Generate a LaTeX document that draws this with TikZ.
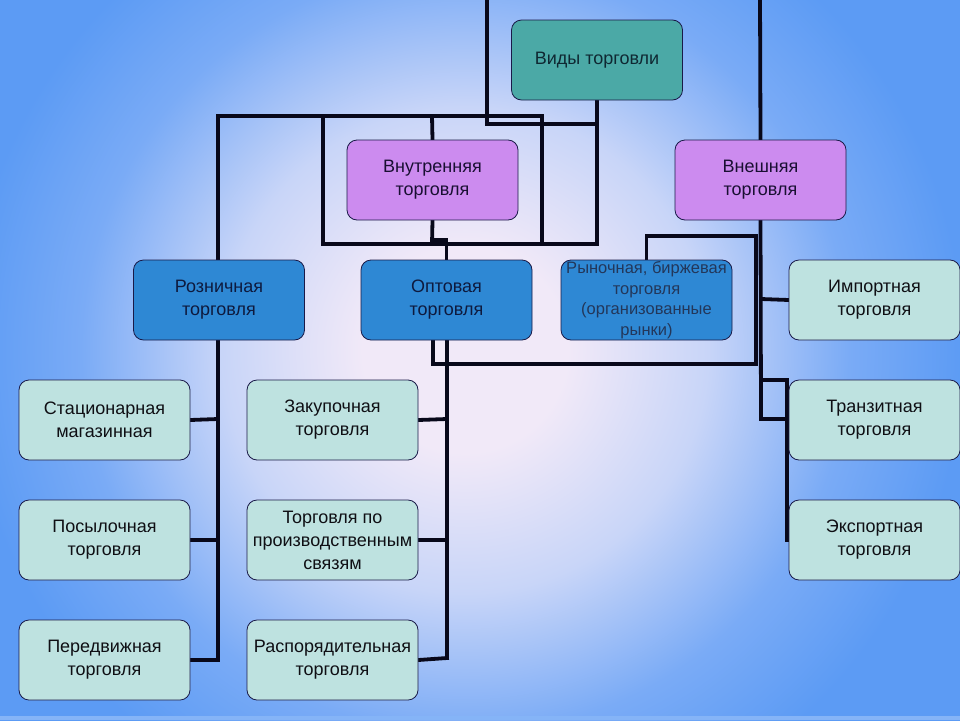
\documentclass[tikz,border=0pt]{standalone}
\usepackage{fontspec}
\setmainfont{Liberation Sans}
\usetikzlibrary{calc}
\definecolor{bgc}{HTML}{F1E9F8}
\definecolor{bgl}{HTML}{C8D5F8}
\definecolor{bgm}{HTML}{7AABF6}
\definecolor{bgo}{HTML}{5C9BF4}
\definecolor{tealf}{HTML}{4BA9A6}
\definecolor{purf}{HTML}{CC8BEF}
\definecolor{bluef}{HTML}{2E88D4}
\definecolor{lightf}{HTML}{BEE2E0}
\definecolor{edgec}{HTML}{1A1A48}
\definecolor{linec}{HTML}{08081A}
\pgfdeclareradialshading{bgshade}{\pgfpoint{0bp}{0bp}}{color(0bp)=(bgc); color(4bp)=(bgc); color(9.5bp)=(bgl); color(15bp)=(bgm); color(19.5bp)=(bgo); color(50bp)=(bgo)}
\pgfdeclarelayer{bglayer}
\pgfdeclarelayer{linelayer}
\pgfsetlayers{bglayer,linelayer,main}
\tikzset{
  box/.style={draw=edgec, line width=0.8pt, rounded corners=10pt, minimum width=171pt, minimum height=80pt,
    align=center, inner sep=1pt, font=\fontsize{18pt}{23pt}\selectfont, text=black!90},
  topbox/.style={box, fill=tealf, text={rgb,255:red,15;green,40;blue,50}},
  midbox/.style={box, fill=purf, text={rgb,255:red,25;green,15;blue,50}},
  bluebox/.style={box, fill=bluef, text={rgb,255:red,14;green,26;blue,62}},
  leafbox/.style={box, fill=lightf, text={rgb,255:red,15;green,15;blue,20}},
  conn/.style={draw=linec, line width=3.8pt, line cap=rect, line join=miter},
}
\begin{document}
\begin{tikzpicture}[x=1pt,y=-1pt]
\useasboundingbox (0,0) rectangle (960,720);
\begin{pgfonlayer}{bglayer}
  \begin{scope}
    \clip (0,0) rectangle (960,720);
    \shade[shading=bgshade] (465,350) circle (640);
    \fill[bgo!75!white] (0,716) rectangle (960,720);
  \end{scope}
\end{pgfonlayer}

% nodes
\node[topbox] (vid) at (597,60) {Виды торговли};
\node[midbox] (vnut) at (432.5,180) {Внутренняя\\торговля};
\node[midbox] (vnesh) at (760.5,180) {Внешняя\\торговля};
\node[bluebox] (rozn) at (219,300) {Розничная\\торговля};
\node[bluebox] (opt) at (446.5,300) {Оптовая\\торговля};
\node[bluebox, font=\fontsize{16.5pt}{20.5pt}\selectfont, text={rgb,255:red,35;green,55;blue,90}] (ryn) at (646.5,300) {Рыночная, биржевая\\торговля\\(организованные\\рынки)};
\node[leafbox] (imp) at (874.5,300) {Импортная\\торговля};
\node[leafbox] (tranz) at (874.5,420) {Транзитная\\торговля};
\node[leafbox] (eksp) at (874.5,540) {Экспортная\\торговля};
\node[leafbox] (stac) at (104.5,420) {Стационарная\\магазинная};
\node[leafbox] (posyl) at (104.5,540) {Посылочная\\торговля};
\node[leafbox] (pered) at (104.5,660) {Передвижная\\торговля};
\node[leafbox] (zak) at (332.5,420) {Закупочная\\торговля};
\node[leafbox] (proizv) at (332.5,540) {Торговля по\\производственным\\связям};
\node[leafbox] (rasp) at (332.5,660) {Распорядительная\\торговля};

% free-end coordinates
\coordinate (t1) at (487,-3);
\coordinate (a1) at (487,124);
\coordinate (a2) at (597,124);
\coordinate (a3) at (597,244);
\coordinate (b1) at (323,244);
\coordinate (b2) at (323,116);
\coordinate (b3) at (218,116);
\coordinate (b4) at (542,116);
\coordinate (b5) at (542,244);
\coordinate (c1) at (432,116);
\coordinate (c2) at (432,240);
\coordinate (c3) at (446.5,240);
\coordinate (r1) at (218,419);
\coordinate (r2) at (218,540);
\coordinate (r3) at (218,660);
\coordinate (o1) at (433,340);
\coordinate (o2) at (433,364);
\coordinate (o3) at (756,364);
\coordinate (o4) at (756,236);
\coordinate (o5) at (646.5,236);
\coordinate (p1) at (447,419);
\coordinate (p2) at (447,540);
\coordinate (p3) at (447,658);
\coordinate (t2) at (760,-3);
\coordinate (e1) at (761,299);
\coordinate (e2) at (761,380);
\coordinate (e3) at (761,419);
\coordinate (e4) at (787,380);
\coordinate (e5) at (787,419);
\coordinate (e6) at (787,540);

\begin{pgfonlayer}{linelayer}
  \draw[conn] (t1) -- (a1) -- (a2);
  \draw[conn] (vid.south) -- (a3) -- (b1) -- (b2);
  \draw[conn] (b3) -- (b4) -- (b5);
  \draw[conn] (b3) -- (b3 |- rozn.north);
  \draw[conn] (c1) -- (vnut.north);
  \draw[conn] (vnut.south) -- (c1 |- a3);
  \draw[conn] (c2) -- (c3) -- (opt.north);
  \draw[conn] (rozn.south -| b3) -- (r3);
  \draw[conn] (stac.east) -- (r1);
  \draw[conn] (posyl.east) -- (r2);
  \draw[conn] (pered.east) -- (r3);
  \draw[conn] (o1) -- (o2) -- (o3) -- (o4) -- (o5) -- (ryn.north);
  \draw[conn] (opt.south -| p1) -- (p3);
  \draw[conn] (zak.east) -- (p1);
  \draw[conn] (proizv.east) -- (p2);
  \draw[conn] (rasp.east) -- (p3);
  \draw[conn] (t2) -- (vnesh.north);
  \draw[conn] (vnesh.south) -- (e3) -- (e5);
  \draw[conn] (e1) -- (imp.west);
  \draw[conn] (e2) -- (e4) -- (e6);
\end{pgfonlayer}
\end{tikzpicture}
\end{document}
